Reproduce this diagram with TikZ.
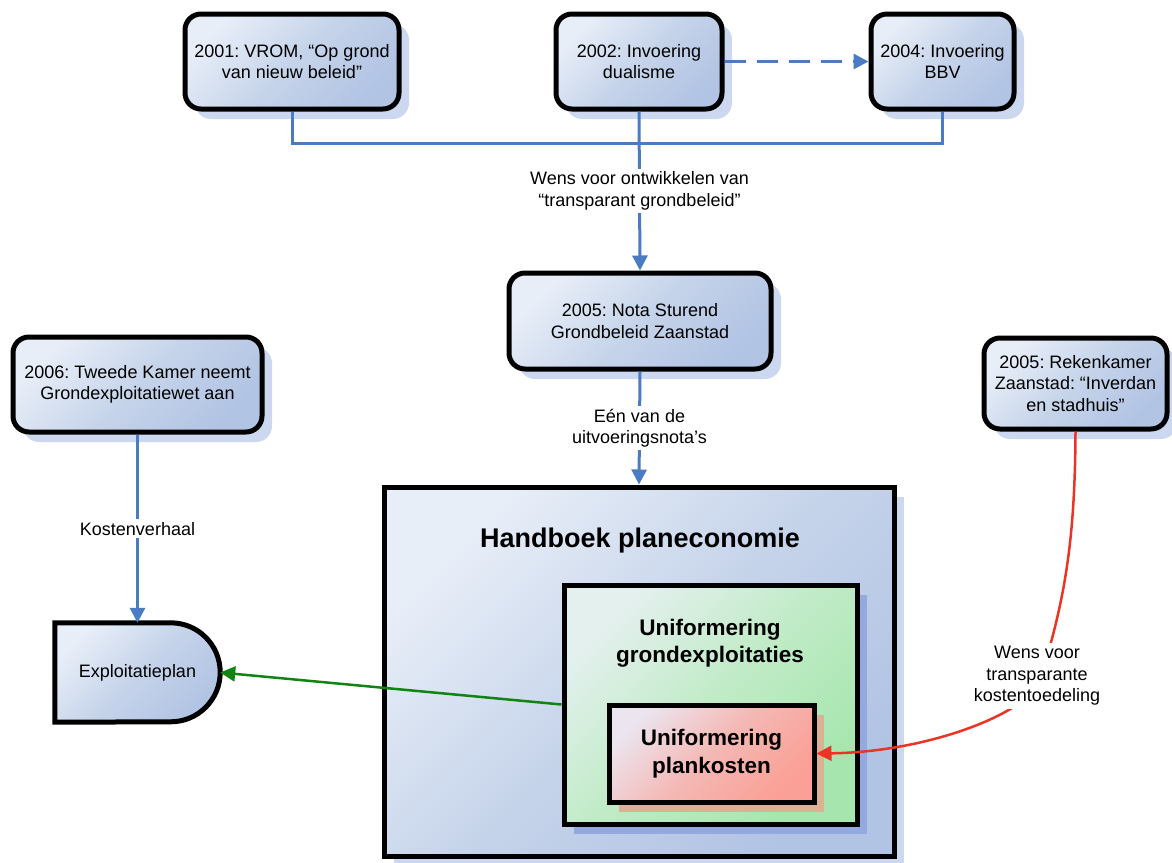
\documentclass[tikz,border=0pt]{standalone}
\usepackage{fontspec}
\setmainfont{Liberation Sans}
\usetikzlibrary{arrows.meta,shadows}
\frenchspacing

\definecolor{boxlight}{RGB}{232,238,248}
\definecolor{boxmid}{RGB}{198,212,234}
\definecolor{boxdark}{RGB}{178,196,228}
\definecolor{greenlight}{RGB}{228,240,238}
\definecolor{greenmid}{RGB}{192,235,198}
\definecolor{greendark}{RGB}{166,230,174}
\definecolor{redlight}{RGB}{236,228,238}
\definecolor{redmid}{RGB}{244,184,180}
\definecolor{reddark}{RGB}{250,160,150}
\definecolor{shadowblue}{RGB}{204,216,240}
\definecolor{shadowdeep}{RGB}{148,170,222}
\definecolor{shadowred}{RGB}{220,176,146}
\definecolor{linkblue}{RGB}{74,124,196}
\definecolor{linkgreen}{RGB}{16,132,16}
\definecolor{linkred}{RGB}{236,52,36}

\begin{document}
\begin{tikzpicture}[x=1pt,y=-1pt,
  every node/.style={font=\fontsize{18}{21.5}\selectfont, align=center, inner sep=0pt},
  bluefill/.style={top color=boxlight, bottom color=boxdark, middle color=boxmid, shading angle=45},
  event/.style={draw=black, line width=5pt, rounded corners=16pt, bluefill,
    drop shadow={shadow xshift=10pt, shadow yshift=-10pt, fill=shadowblue, opacity=1}},
  bigbox/.style={draw=black, line width=5pt, bluefill,
    drop shadow={shadow xshift=10pt, shadow yshift=-10pt, fill=shadowblue, opacity=1}},
  greenbox/.style={draw=black, line width=5pt, top color=greenlight, bottom color=greendark,
    middle color=greenmid, shading angle=45,
    drop shadow={shadow xshift=10pt, shadow yshift=-10pt, fill=shadowdeep, opacity=1}},
  redbox/.style={draw=black, line width=5pt, top color=redlight, bottom color=reddark,
    middle color=redmid, shading angle=45,
    drop shadow={shadow xshift=10pt, shadow yshift=-10pt, fill=shadowred, opacity=1}},
  link/.style={draw=linkblue, line width=3pt},
  tip/.style={-{Triangle[length=15pt,width=15pt]}},
  lbl/.style={fill=white, inner sep=3pt},
  boldbig/.style={font=\fontsize{27}{32}\selectfont\bfseries},
  boldmid/.style={font=\fontsize{22.5}{27.5}\selectfont\bfseries},
]
\useasboundingbox (0,0) rectangle (1172,862);

% event boxes along the top
\node[event, minimum width=214pt, minimum height=95pt] (A) at (292,61.5) {2001: VROM, “Op grond\\van nieuw beleid”};
\node[event, minimum width=166pt, minimum height=95pt] (B) at (639,61.5) {2002: Invoering\\dualisme};
\node[event, minimum width=143pt, minimum height=95pt] (C) at (942.5,61.5) {2004: Invoering\\BBV};

% policy note
\node[event, minimum width=262pt, minimum height=96pt] (D) at (640,321) {2005: Nota Sturend\\Grondbeleid Zaanstad};

% side events
\node[event, minimum width=249pt, minimum height=95pt] (E) at (137.5,384.5) {2006: Tweede Kamer neemt\\Grondexploitatiewet aan};
\node[event, minimum width=183pt, minimum height=91pt] (F) at (1075.5,383.5) {2005: Rekenkamer\\Zaanstad: “Inverdan\\en stadhuis”};

% handbook with nested boxes
\node[bigbox, minimum width=510pt, minimum height=369pt] (H) at (639,671.5) {};
\node[boldbig] (Htitle) at (640,541) {Handboek planeconomie};
\node[greenbox, minimum width=293pt, minimum height=239pt] (G) at (710.5,704.5) {};
\node[boldmid] (Gtitle) at (710,643) {Uniformering\\grondexploitaties};
\node[redbox, minimum width=205pt, minimum height=97pt, font=\fontsize{22.5}{28}\selectfont\bfseries] (R) at (711.5,753.5) {Uniformering\\plankosten};

% exploitation plan (delay-shaped box)
\node[minimum width=165pt, minimum height=99pt] (ep) at (137.5,672.5) {};
\begin{scope}[shift={(10,10)}]
  \fill[shadowblue] (ep.north west) -- ([xshift=-49.5pt]ep.north east)
    arc[start angle=-90, end angle=90, radius=49.5] -- (ep.south west) -- cycle;
\end{scope}
\shade[draw=black, line width=5pt, bluefill] (ep.north west) -- ([xshift=-49.5pt]ep.north east)
    arc[start angle=-90, end angle=90, radius=49.5] -- (ep.south west) -- cycle;
\node (eptext) at (ep.center) {Exploitatieplan};

% connectors
\coordinate (j) at (639,143);
\draw[link] (A.south) |- (j) -| (C.south);
\draw[link, tip] (B.south) -- node[lbl] {Wens voor ontwikkelen van\\“transparant grondbeleid”} (D.north);
\draw[link, tip, dash pattern=on 21pt off 11pt] (B.east) -- (C.west);
\draw[link, tip] (D.south) -- node[lbl] {Eén van de\\uitvoeringsnota’s} (H.north);
\draw[link, tip] (E.south) -- node[lbl] {Kostenverhaal} (ep.north);
\draw[draw=linkgreen, line width=2.5pt, tip] (G.west) -- (ep.east);

\coordinate (rk) at (1040,680);
\draw[draw=linkred, line width=2.5pt, tip] (F.south) .. controls (1075,540) and (1065,600) .. (rk)
  .. controls (1030,712) and (930,752) .. (R.east);
\node[lbl] (rlabel) at (1037,676) {Wens voor\\transparante\\kostentoedeling};
\end{tikzpicture}
\end{document}
